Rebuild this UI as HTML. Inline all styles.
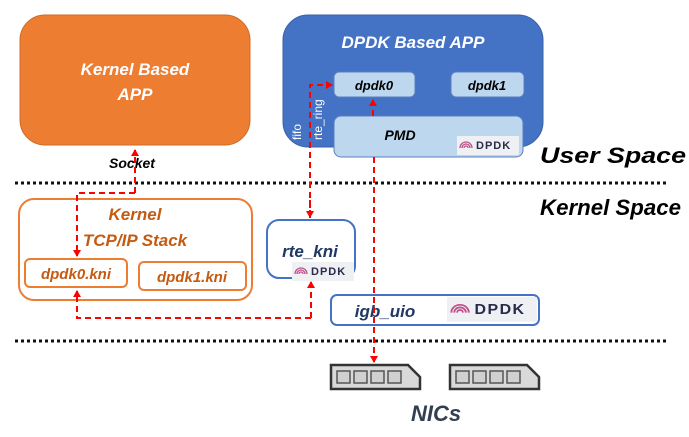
<!DOCTYPE html>
<html><head><meta charset="utf-8"><style>
body{margin:0;background:#fff}
svg text{font-family:"Liberation Sans",sans-serif;font-weight:bold;font-style:italic}
</style></head><body>
<svg width="689" height="432" viewBox="0 0 689 432" xmlns="http://www.w3.org/2000/svg">
<defs>
<marker id="ar" markerWidth="8" markerHeight="8" refX="6" refY="4" orient="auto" markerUnits="userSpaceOnUse">
<path d="M0,0 L7,4 L0,8 z" fill="#f00"/></marker>
<g id="logo">
<rect x="0" y="0" width="62" height="19" fill="#eef0f4"/>
<g fill="none" stroke="#c0508a" stroke-width="1.3">
<path d="M3,12 a6,6 0 0 1 12,0"/><path d="M5,12 a4,4 0 0 1 8,0"/><path d="M7,12 a2,2 0 0 1 4,0"/></g>
<text x="19" y="13" font-size="11" fill="#2a2a4a" style="font-style:normal;letter-spacing:1px">DPDK</text>
</g>
</defs>
<rect x="20" y="15" width="230" height="130" rx="25" fill="#ED7D31" stroke="#d06a25"/>
<text x="135" y="75" font-size="17" fill="#fff" text-anchor="middle">Kernel Based</text>
<text x="135" y="100" font-size="17" fill="#fff" text-anchor="middle">APP</text>
<rect x="283" y="15" width="260" height="132" rx="25" fill="#4472C4" stroke="#3a62a8"/>
<text x="413" y="48" font-size="17" fill="#fff" text-anchor="middle">DPDK Based APP</text>
<rect x="334" y="72" width="81" height="25" rx="5" fill="#BDD7EE" stroke="#5a7fc0"/>
<text x="374" y="90" font-size="13" fill="#000" text-anchor="middle">dpdk0</text>
<rect x="451" y="72" width="73" height="25" rx="5" fill="#BDD7EE" stroke="#5a7fc0"/>
<text x="487" y="90" font-size="13" fill="#000" text-anchor="middle">dpdk1</text>
<rect x="334" y="116" width="189" height="41" rx="7" fill="#BDD7EE" stroke="#5a7fc0"/>
<text x="400" y="140" font-size="14" fill="#000" text-anchor="middle">PMD</text>
<use href="#logo" x="457" y="136"/>
<text transform="translate(301,140) rotate(-90)" font-size="12" fill="#fff" style="font-style:normal;font-weight:normal">fifo</text>
<text transform="translate(322,140) rotate(-90)" font-size="12" fill="#fff" style="font-style:normal;font-weight:normal">rte_ring</text>
<text x="540" y="163" font-size="22" fill="#000" textLength="146" lengthAdjust="spacingAndGlyphs">User Space</text>
<line x1="15" y1="183" x2="668" y2="183" stroke="#111" stroke-width="3" stroke-dasharray="3,3"/>
<text x="540" y="215" font-size="22" fill="#000" textLength="141" lengthAdjust="spacingAndGlyphs">Kernel Space</text>
<rect x="19" y="199" width="233" height="101" rx="15" fill="#fff" stroke="#ED7D31" stroke-width="2"/>
<text x="135" y="220" font-size="17" fill="#C55A11" text-anchor="middle">Kernel</text>
<text x="135" y="246" font-size="17" fill="#C55A11" text-anchor="middle">TCP/IP Stack</text>
<rect x="25" y="259" width="102" height="28" rx="5" fill="#fff" stroke="#ED7D31" stroke-width="2"/>
<text x="76" y="279" font-size="15" fill="#C55A11" text-anchor="middle">dpdk0.kni</text>
<rect x="139" y="262" width="107" height="28" rx="5" fill="#fff" stroke="#ED7D31" stroke-width="2"/>
<text x="192" y="282" font-size="15" fill="#C55A11" text-anchor="middle">dpdk1.kni</text>
<text x="132" y="168" font-size="14" fill="#000" text-anchor="middle">Socket</text>
<rect x="267" y="220" width="88" height="58" rx="12" fill="#fff" stroke="#4472C4" stroke-width="2"/>
<text x="310" y="257" font-size="17" fill="#1F3864" text-anchor="middle">rte_kni</text>
<use href="#logo" x="292" y="262"/>
<rect x="331" y="295" width="208" height="30" rx="6" fill="#fff" stroke="#4472C4" stroke-width="2"/>
<text x="385" y="317" font-size="17" fill="#1F3864" text-anchor="middle">igb_uio</text>
<g transform="translate(447,297) scale(1.45,1.3)"><use href="#logo"/></g>
<line x1="15" y1="341" x2="668" y2="341" stroke="#111" stroke-width="3" stroke-dasharray="3,3"/>
<g fill="none" stroke="#f00" stroke-width="2" stroke-dasharray="6,4">
<path d="M135,193 L135,150" marker-end="url(#ar)"/>
<path d="M135,193 L77,193 L77,256" marker-end="url(#ar)"/>
<path d="M311,318 L77,318 L77,291" marker-end="url(#ar)"/>
<path d="M311,318 L311,282" marker-end="url(#ar)"/>
<path d="M310,218 L310,85 L332,85" marker-end="url(#ar)"/>
<path d="M310,200 L310,217" marker-end="url(#ar)"/>
<path d="M373,116 L373,100" marker-end="url(#ar)"/>
<path d="M374,157 L374,362" marker-end="url(#ar)"/>
</g>
<g stroke="#333" stroke-width="2.5" fill="#d9d9d9">
<path d="M331,365 L408,365 L420,377 L420,389 L331,389 z"/>
<path d="M450,365 L527,365 L539,377 L539,389 L450,389 z"/>
</g>
<g stroke="#555" stroke-width="1.5" fill="#d0d0d0">
<rect x="337" y="371" width="13" height="12"/><rect x="354" y="371" width="13" height="12"/><rect x="371" y="371" width="13" height="12"/><rect x="388" y="371" width="13" height="12"/>
<rect x="456" y="371" width="13" height="12"/><rect x="473" y="371" width="13" height="12"/><rect x="490" y="371" width="13" height="12"/><rect x="507" y="371" width="13" height="12"/>
</g>
<text x="436" y="421" font-size="22" fill="#333F50" text-anchor="middle">NICs</text>
</svg>
</body></html>
